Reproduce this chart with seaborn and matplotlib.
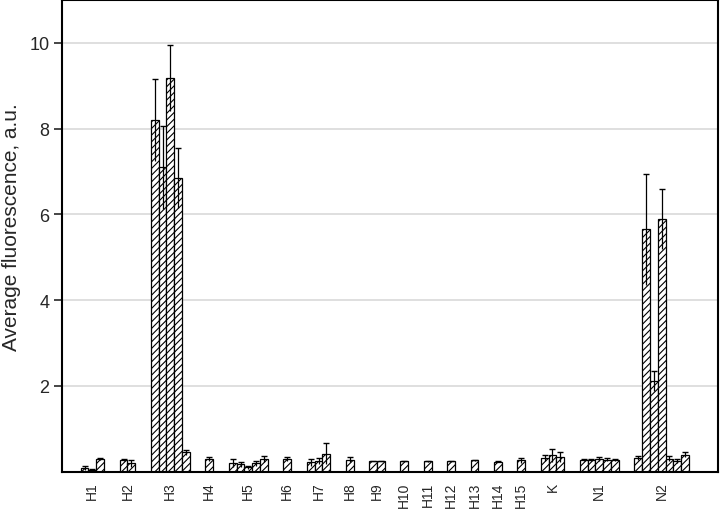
import numpy as np
import pandas as pd
import matplotlib
matplotlib.use("Agg")
import matplotlib.pyplot as plt
import seaborn as sns

# groups on the x axis and how many bars each one has
group_labels = ["H1", "H2", "H3", "H4", "H5", "H6", "H7", "H8", "H9", "H10",
                "H11", "H12", "H13", "H14", "H15", "K", "N1", "N2"]
bars_per_group = [3, 2, 5, 1, 5, 1, 3, 1, 2, 1, 1, 1, 1, 1, 1, 3, 5, 7]

# bar heights, one per bar, in group order
means = [0.08, 0.04, 0.30,
         0.27, 0.20,
         8.20, 7.10, 9.18, 6.86, 0.45,
         0.30,
         0.20, 0.17, 0.10, 0.20, 0.30,
         0.30,
         0.22, 0.25, 0.42,
         0.28,
         0.25, 0.25,
         0.25,
         0.24,
         0.25,
         0.27,
         0.23,
         0.27,
         0.32, 0.38, 0.35,
         0.28, 0.27, 0.30, 0.28, 0.27,
         0.32, 5.65, 2.12, 5.90, 0.30, 0.25, 0.40]

# half-length of the error bars
errors = [0.05, 0.02, 0.03,
          0.03, 0.08,
          0.95, 0.97, 0.76, 0.70, 0.05,
          0.05,
          0.10, 0.05, 0.03, 0.06, 0.07,
          0.04,
          0.08, 0.07, 0.25,
          0.06,
          0.01, 0.01,
          0.01,
          0.01,
          0.01,
          0.01,
          0.01,
          0.06,
          0.08, 0.15, 0.12,
          0.02, 0.02, 0.05, 0.03, 0.03,
          0.05, 1.30, 0.23, 0.70, 0.06, 0.05, 0.06]

# bars sit next to each other in a group, with two empty slots between groups
gap = 2
positions = []
centers = []
start = 0
for n in bars_per_group:
    positions.extend(range(start, start + n))
    centers.append(start + (n - 1) / 2)
    start += n + gap

df = pd.DataFrame({"pos": positions, "value": means, "err": errors})

sns.set_theme(style="white")
plt.rcParams["font.family"] = ["Liberation Sans", "DejaVu Sans"]
plt.rcParams["hatch.linewidth"] = 0.8

fig = plt.figure(figsize=(7.2, 5.1), dpi=100)
ax = fig.add_axes([0.086, 0.073, 0.911, 0.925])

sns.barplot(data=df, x="pos", y="value", native_scale=True, width=1,
            color="white", edgecolor="black", linewidth=0.9,
            hatch="/////", errorbar=None, ax=ax, zorder=2)
for p in ax.patches:
    p.set_facecolor("white")
    p.set_edgecolor("black")
    p.set_hatch("/////")

ax.errorbar(df["pos"], df["value"], yerr=df["err"], fmt="none",
            ecolor="black", elinewidth=0.9, capsize=0, zorder=3)
ax.plot(df["pos"], df["value"] + df["err"], linestyle="none", marker="_",
        markersize=4, markeredgewidth=1.0, color="black", zorder=3)

ax.set_xlim(-2.9, start - gap + 3.2)
ax.set_ylim(0, 11.0)
ax.set_yticks([2, 4, 6, 8, 10])
ax.set_xticks(centers)
ax.set_xticklabels(group_labels, rotation=90, fontsize=10)
ax.tick_params(axis="x", length=0, pad=7)
ax.tick_params(axis="y", length=6, width=1.2, labelsize=13, direction="out",
               left=True, pad=3)
ax.yaxis.grid(True, color="#dcdcdc", linewidth=1.3, zorder=0)
ax.set_axisbelow(True)
ax.set_xlabel("")
ax.set_ylabel("Average fluorescence, a.u.", fontsize=15)
ax.yaxis.set_label_coords(-0.062, 0.52)

for s in ax.spines.values():
    s.set_visible(True)
    s.set_color("black")
    s.set_linewidth(1.5)

fig.savefig("out.png", dpi=100)
